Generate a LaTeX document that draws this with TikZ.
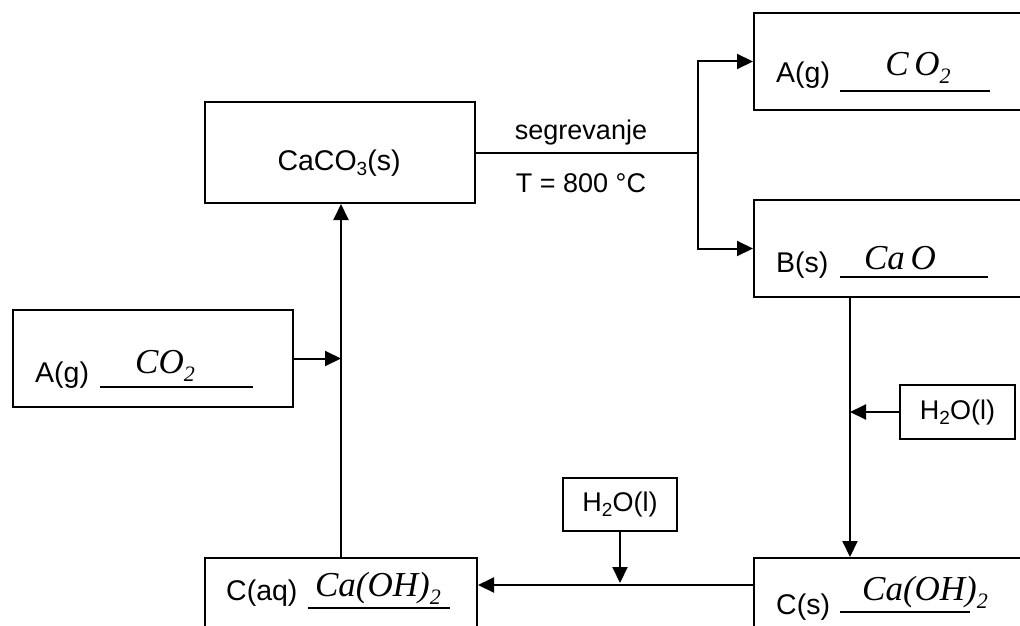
\documentclass[tikz,border=0pt]{standalone}
\usepackage{fontspec}
\setmainfont{Liberation Sans}
\newfontfamily\hand{Liberation Serif}
\usetikzlibrary{arrows.meta,calc}
\newcommand\mysub[1]{\raisebox{-0.35ex}{\fontsize{19}{19}\selectfont #1}}
\newcommand\hsub[1]{\raisebox{-0.5ex}{\fontsize{22}{22}\selectfont #1}}
\tikzset{
  box/.style={draw, line width=2pt, inner sep=0pt},
  arr/.style={line width=2pt, -{Triangle[length=16pt,width=15pt]}},
  ln/.style={line width=2pt},
  lab/.style={font=\fontsize{28.5}{32}\selectfont, inner sep=0pt},
  lab2/.style={font=\fontsize{27}{32}\selectfont, inner sep=0pt},
  hw/.style={font=\hand\itshape\fontsize{35}{38}\selectfont, inner sep=0pt},
  ul/.style={line width=1.8pt}
}
\begin{document}
\begin{tikzpicture}[x=1pt,y=-1pt]
\clip (0,0) rectangle (1020,626);
\fill[white] (0,0) rectangle (1020,626);
% boxes
\node[box, minimum width=270pt, minimum height=101pt] (caco3) at (340,152.5) {};
\node[box, minimum width=286pt, minimum height=97pt] (agtr) at (897,61.5) {};
\node[box, minimum width=286pt, minimum height=97pt] (bs) at (897,248.5) {};
\node[box, minimum width=280pt, minimum height=97pt] (agl) at (153,358.5) {};
\node[box, minimum width=115pt, minimum height=54pt] (h2or) at (957.5,412) {};
\node[box, minimum width=114pt, minimum height=53pt] (h2om) at (620,504.5) {};
\node[box, minimum width=272pt, minimum height=102pt] (caq) at (341,609) {};
\node[box, minimum width=286pt, minimum height=102pt] (cs) at (897,609) {};
% texts
\node[lab] (t1) at (339,163) {CaCO\mysub{3}(s)};
\node[lab2] (t2) at (581,133) {segrevanje};
\node[lab2] (t3) at (581,183) {T = 800 °C};
\node[lab, anchor=west] (t4) at (776,75) {A(g)};
\node[lab, anchor=west] (t5) at (776,265) {B(s)};
\node[lab, anchor=west] (t6) at (35,375) {A(g)};
\node[lab, anchor=west] (t7) at (226,593) {C(aq)};
\node[lab, anchor=west] (t8) at (776,607) {C(s)};
\node[lab2] (t9) at (957.5,413) {H\mysub{2}O(l)};
\node[lab2] (t10) at (620,505) {H\mysub{2}O(l)};
% answer lines
\draw[ul] (840,91) -- (990,91);
\draw[ul] (840,277) -- (988,277);
\draw[ul] (100,387) -- (253,387);
\draw[ul] (308,608) -- (450,608);
\draw[ul] (840,612) -- (970,612);
% handwritten answers
\node[hw] (h1) at (918,68) {C\,O\hsub{2}};
\node[hw] (h2) at (900,258) {Ca\,O};
\node[hw] (h3) at (165,366) {CO\hsub{2}};
\node[hw] (h4) at (378,588) {Ca(OH)\hsub{2}};
\node[hw] (h5) at (925,592) {Ca(OH)\hsub{2}};
% connectors
\coordinate (j) at (698,152.5);
\coordinate (vl) at (850,300);
\draw[ln] (caco3.east) -- (j);
\draw[arr] (j) |- (agtr.west);
\draw[arr] (j) |- (bs.west);
\draw[arr] (bs.south -| vl) -- (cs.north -| vl);
\draw[arr] (h2or.west) -- (h2or.west -| vl);
\draw[arr] ([yshift=24pt]cs.west) -- ([yshift=24pt]caq.east);
\draw[arr] (h2om.south) -- ($(h2om.south |- caq.east)+(0,-26)$);
\draw[arr] (caq.north) -- (caq.north |- caco3.south);
\draw[arr] (agl.east) -- (agl.east -| caq.north);
\end{tikzpicture}
\end{document}
